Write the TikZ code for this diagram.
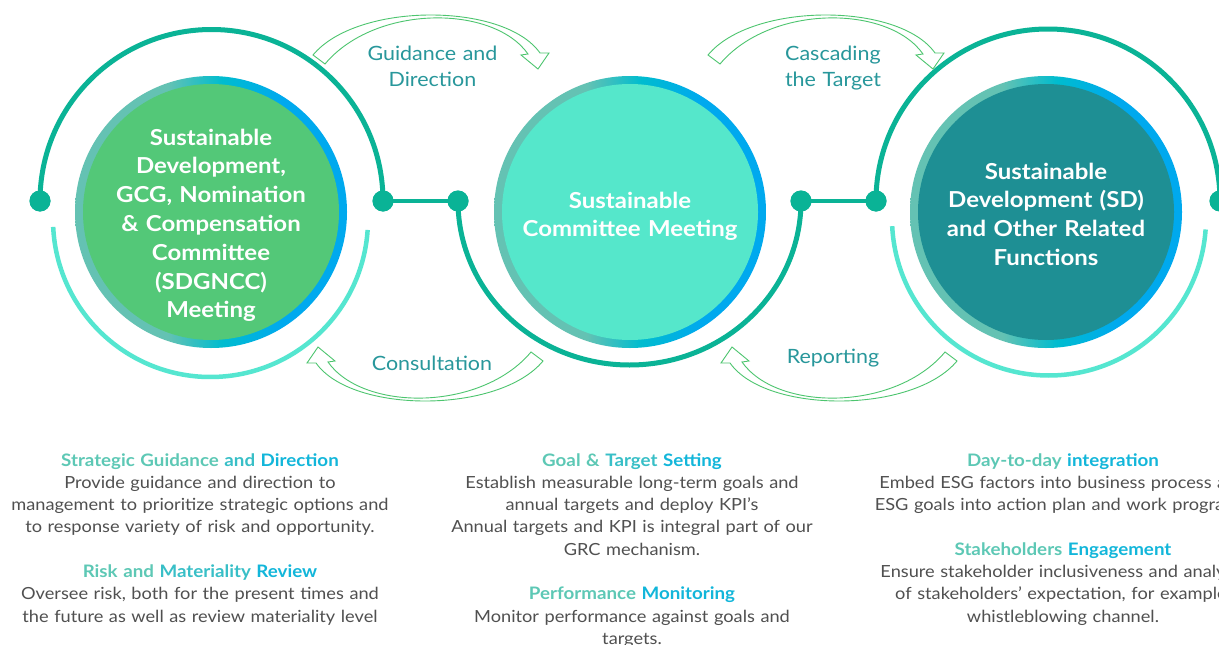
\documentclass[tikz,border=0pt]{standalone}
\usepackage{fontspec}
\setmainfont{Lato}[FakeStretch=1.09]
\definecolor{arcdark}{HTML}{0AB396}
\definecolor{arclight}{HTML}{55E6D0}
\definecolor{fillA}{HTML}{53C878}
\definecolor{fillB}{HTML}{55E7CB}
\definecolor{fillC}{HTML}{1E8F94}
\definecolor{ringL}{HTML}{64C2B3}
\definecolor{ringM}{HTML}{00BCCF}
\definecolor{ringR}{HTML}{00A9EE}
\definecolor{arrowgreen}{HTML}{4DC56F}
\definecolor{labelteal}{HTML}{28979B}
\definecolor{bodygrey}{HTML}{505050}
\definecolor{hA}{HTML}{5DC8B5}
\definecolor{hB}{HTML}{12B6DA}
\pgfdeclarehorizontalshading{ringshade}{100bp}{color(0bp)=(ringL); color(42bp)=(ringL); color(52bp)=(ringM); color(63bp)=(ringR); color(100bp)=(ringR)}
\tikzset{
  ring/.style={circle, minimum size=272pt, inner sep=0pt, shading=ringshade},
  core/.style={circle, minimum size=256pt, inner sep=0pt},
  dot/.style={circle, fill=arcdark, minimum size=21pt, inner sep=0pt},
  darkarc/.style={draw=arcdark, line width=5pt},
  lightarc/.style={draw=arclight, line width=4.5pt},
  link/.style={draw=arcdark, line width=4pt},
  arrowline/.style={draw=arrowgreen, line width=0.9pt, line join=miter},
  nodetext/.style={text=white, align=center, text width=300pt, anchor=base, inner sep=0pt,
    font=\bfseries\fontsize{22}{28.8}\selectfont},
  arrowlabel/.style={text=labelteal, align=center, text width=200pt, anchor=base, inner sep=0pt,
    font=\fontsize{19.7}{26.5}\selectfont},
  bodytext/.style={text=bodygrey, align=center, text width=470pt, anchor=base, inner sep=0pt,
    font=\fontsize{16.7}{22.3}\selectfont},
  bandarrowhigh/.pic={\draw[arrowline] (313,55) .. controls (357,2) and (504,2) .. (540,53) -- (549,53) -- (538,69) -- (521,55) -- (528,54) .. controls (493,4.3) and (375,4.3) .. (325,64) -- cycle;},
  bandarrowlow/.pic={\draw[arrowline] (543,361) .. controls (499,414) and (352,414) .. (316,363) -- (307,363) -- (318,347) -- (335,361) -- (328,362) .. controls (363,411.7) and (481,411.7) .. (531,352) -- cycle;}
}
\newcommand{\hdA}[1]{\textcolor{hA}{\bfseries\fontsize{17.2}{22.3}\selectfont #1}}
\newcommand{\hdM}[1]{\textcolor{hA!50!hB}{\bfseries\fontsize{17.2}{22.3}\selectfont #1}}
\newcommand{\hdB}[1]{\textcolor{hB}{\bfseries\fontsize{17.2}{22.3}\selectfont #1}}
\begin{document}
\begin{tikzpicture}[x=1pt,y=-1pt]
\useasboundingbox (0,0) rectangle (1219,645);
\clip (0,0) rectangle (1219,645);
\fill[white] (0,0) rectangle (1219,645);

% circles
\node[ring] (r1) at (211,212) {};
\node[core, fill=fillA] (n1) at (211,212) {};
\node[ring] (r2) at (630,212) {};
\node[core, fill=fillB] (n2) at (630,212) {};
\node[ring] (r3) at (1046,212) {};
\node[core, fill=fillC] (n3) at (1046,212) {};

% outer arcs
\node[dot] (d1) at (40,201) {};
\node[dot] (d2) at (383,201) {};
\node[dot] (d3) at (458,201) {};
\node[dot] (d4) at (801,201) {};
\node[dot] (d5) at (876,201) {};
\node[dot] (d6) at (1220,201) {};
\path[darkarc] (d1.center) arc[start angle=180, end angle=360, radius=171.5];
\path[lightarc] (210.5,219.5) ++(177.3:157.5) arc[start angle=177.3, end angle=3.8, radius=157.5];
\path[darkarc] (d3.center) arc[start angle=180, end angle=0, x radius=171.5, y radius=164];
\path[darkarc] (d5.center) arc[start angle=180, end angle=360, radius=172];
\path[lightarc] (1049,218.5) ++(177.2:157) arc[start angle=177.2, end angle=4, radius=157];
\path[link] (d2.center) -- (d3.center);
\path[link] (d4.center) -- (d5.center);
\node[dot] at (d1) {};
\node[dot] at (d2) {};
\node[dot] at (d3) {};
\node[dot] at (d4) {};
\node[dot] at (d5) {};
\node[dot] at (d6) {};

% node texts
\node[nodetext] (t1) at (211,145) {Sustainable\\Development,\\GCG, Nomination\\\& Compensation\\Committee\\(SDGNCC)\\Meeting};
\node[nodetext] (t2) at (630,208) {Sustainable\\Committee Meeting};
\node[nodetext] (t3) at (1046,179) {Sustainable\\Development (SD)\\and Other Related\\Functions};

% curved arrows
\pic (aG) at (0,0) {bandarrowhigh};
\pic (aC) at (395,0) {bandarrowhigh};
\pic (aK) at (0,0) {bandarrowlow};
\pic (aR) at (414,0) {bandarrowlow};

\node[arrowlabel] (lG) at (432.5,60) {Guidance and\\Direction};
\node[arrowlabel] (lC) at (833,60) {Cascading\\the Target};
\node[arrowlabel] (lK) at (432,370) {Consultation};
\node[arrowlabel] (lR) at (833,363) {Reporting};

% bottom texts
\node[bodytext] (b1) at (200,466) {\hdA{Strategic Guidance} \hdM{and} \hdB{Direction}\\
Provide guidance and direction to\\
management to prioritize strategic options and\\
to response variety of risk and opportunity.\\[22.3pt]
\hdA{Risk and} \hdM{Materiality} \hdB{Review}\\
Oversee risk, both for the present times and\\
the future as well as review materiality level};
\node[bodytext] (b2) at (632,466) {\hdA{Goal \&} \hdM{Target} \hdB{Setting}\\
Establish measurable long-term goals and\\
annual targets and deploy KPI’s\\
Annual targets and KPI is integral part of our\\
GRC mechanism.\\[22.3pt]
\hdA{Performance} \hdB{Monitoring}\\
Monitor performance against goals and\\
targets.};
\node[bodytext] (b3) at (1063,466) {\hdA{Day-to-day} \hdB{integration}\\
Embed ESG factors into business process and\\
ESG goals into action plan and work programs.\\[22.3pt]
\hdA{Stakeholders} \hdB{Engagement}\\
Ensure stakeholder inclusiveness and analysis\\
of stakeholders’ expectation, for example,\\
whistleblowing channel.};
\end{tikzpicture}
\end{document}
